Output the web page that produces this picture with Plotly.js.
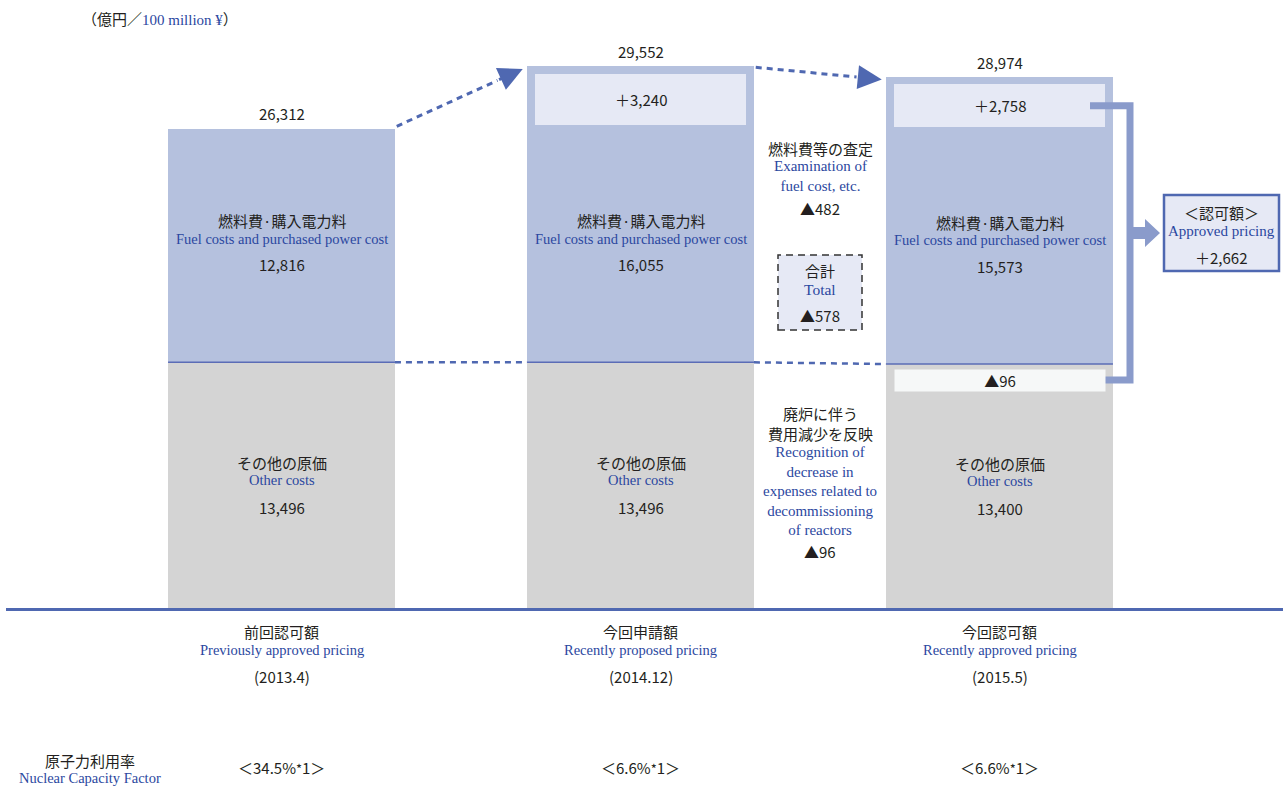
<!DOCTYPE html>
<html>
<head>
<meta charset="utf-8">
<script src="https://cdn.plot.ly/plotly-3.0.1.min.js"></script>
<style>html,body{margin:0;padding:0;background:#fff;}#chart{width:1283px;height:787px;}</style>
</head>
<body>
<div id="chart"></div>
<script>
// ---- data ----
const categories = ['前回認可額', '今回申請額', '今回認可額'];
const categoriesEn = ['Previously approved pricing', 'Recently proposed pricing', 'Recently approved pricing'];
const periods = ['(2013.4)', '(2014.12)', '(2015.5)'];
const otherCosts = [13496, 13496, 13400];
const fuelBase = [12816, 12815, 12815];
const fuelIncrease = [null, 3240, 2758];
const fuelTotals = [12816, 16055, 15573];
const totals = [26312, 29552, 28974];
const nuclearFactor = ['34.5%', '6.6%', '6.6%'];
const fuelAssessment = 482;        // ▲ decrease
const decommissioningCut = 96;     // ▲ decrease
const totalAssessment = 578;       // ▲ decrease
const approvedIncrease = 2662;

// ---- styling ----
const JP = "'Noto Sans CJK JP','Noto Sans',sans-serif";
const EN = "'Liberation Serif','Times New Roman',serif";
const BLUE = '#2b47a0', DARK = '#231f20';
const C_FUEL = '#b5c1de', C_INNER = '#e6e9f5', C_OTHER = '#d4d4d4', C_LINE = '#4f68b1', C_BRACKET = '#8a9bcb';
const yMax = 32300;
const BW = 0.632, HW = BW / 2;
const T = 20, PH = 588, L = 6, PW = 1277;
const px2x = p => (p - L) / PW;
const px2y = p => (T + PH - p) / PH;
const fmt = n => n.toLocaleString('en-US');

const stackTop = otherCosts.map((o, i) => o + fuelBase[i] + (fuelIncrease[i] || 0));

const traces = [
  {type: 'bar', x: categories, y: otherCosts, width: BW, marker: {color: C_OTHER, line: {width: 0}}, hoverinfo: 'skip'},
  {type: 'bar', x: categories, y: fuelBase, width: BW, marker: {color: C_FUEL, line: {width: 0}}, hoverinfo: 'skip'},
  {type: 'bar', x: categories, y: fuelIncrease, width: BW - 7.5 / 359, marker: {color: C_INNER, line: {width: 7.5, color: C_FUEL}}, hoverinfo: 'skip'}
];

const ann = [];
const shapes = [];
function A(o) { ann.push(Object.assign({showarrow: false, xref: 'x', yref: 'y', xanchor: 'center', yanchor: 'middle', font: {family: JP, size: 15, color: DARK}}, o)); }

categories.forEach((c, i) => {
  A({x: c, y: stackTop[i], yanchor: 'bottom', yshift: fuelIncrease[i] ? 6 : 3, text: fmt(totals[i])});
  const yf = otherCosts[i] + fuelBase[i] / 2;
  A({x: c, y: yf, yshift: 25, text: '燃料費·購入電力料'});
  A({x: c, y: yf, yshift: 7, text: 'Fuel costs and purchased power cost', font: {family: EN, size: 14.5, color: BLUE}});
  A({x: c, y: yf, yshift: -19, text: fmt(fuelTotals[i])});
  const yo = otherCosts[i] / 2;
  A({x: c, y: yo, yshift: 23, text: 'その他の原価'});
  A({x: c, y: yo, yshift: 5, text: 'Other costs', font: {family: EN, size: 14.5, color: BLUE}});
  A({x: c, y: yo, yshift: -22, text: fmt(otherCosts[i])});
  if (fuelIncrease[i]) {
    A({x: c, y: otherCosts[i] + fuelBase[i] + fuelIncrease[i] / 2, text: '＋' + fmt(fuelIncrease[i])});
  }
  A({x: c, y: 0, yshift: -42, text: categoriesEn[i], font: {family: EN, size: 14.5, color: BLUE}});
  A({x: c, y: 0, yshift: -68, text: periods[i]});
  A({x: c, y: 0, yshift: -159, text: '＜' + nuclearFactor[i] + "<span style='font-size:13px'>*</span>1＞"});
  shapes.push({type: 'line', xref: 'x', yref: 'y', x0: i - HW, x1: i + HW, y0: otherCosts[i], y1: otherCosts[i], line: {color: '#5b6cb6', width: 1.5}});
});

// ▲96 strip in bar 3
A({x: categories[2], y: otherCosts[2], yanchor: 'top', yshift: -5, width: 210, height: 21, borderpad: 0, bgcolor: '#f6f8f8', text: '▲' + fmt(decommissioningCut)});

// connectors between bars
for (let i = 0; i < 2; i++) {
  shapes.push({type: 'line', xref: 'x', yref: 'y', x0: i + HW, x1: i + 1 - HW, y0: otherCosts[i], y1: otherCosts[i + 1], line: {color: C_LINE, width: 2.5, dash: '6px,5px'}});
  const sx = i + HW + 0.005, sy = stackTop[i] + 150;
  const tx = i + 1 - HW - 0.012, ty = stackTop[i + 1] + 60;
  const f = 0.8;
  const mx = sx + f * (tx - sx), my = sy + f * (ty - sy);
  shapes.push({type: 'line', xref: 'x', yref: 'y', x0: sx, y0: sy, x1: mx, y1: my, line: {color: C_LINE, width: 3, dash: '6px,5px'}});
  ann.push({x: tx, y: ty, xref: 'x', yref: 'y', ax: mx, ay: my, axref: 'x', ayref: 'y', showarrow: true, arrowhead: 2, arrowsize: 1.6, arrowwidth: 3, arrowcolor: C_LINE, text: '', standoff: 0});
}

// middle notes
function P(o) { ann.push(Object.assign({showarrow: false, xref: 'x', yref: 'paper', x: 1.5, xanchor: 'center', yanchor: 'middle', font: {family: JP, size: 15, color: DARK}}, o)); }
P({y: px2y(148), text: '燃料費等の査定'});
P({y: px2y(176), text: 'Examination of<br>fuel cost, etc.', font: {family: EN, size: 15, color: BLUE}});
P({y: px2y(209), text: '▲' + fmt(fuelAssessment)});
shapes.push({type: 'rect', xref: 'x', yref: 'paper', x0: 1.5 - 0.117, x1: 1.5 + 0.117, y0: px2y(330), y1: px2y(255), fillcolor: C_INNER, line: {color: '#333', width: 1.5, dash: '7px,5px'}, layer: 'below'});
P({y: px2y(270), text: '合計'});
P({y: px2y(289), text: 'Total', font: {family: EN, size: 15.5, color: BLUE}});
P({y: px2y(315), text: '▲' + fmt(totalAssessment)});
P({y: px2y(423), text: '廃炉に伴う<br>費用減少を反映'});
P({y: px2y(491), text: 'Recognition of<br>decrease in<br>expenses related to<br>decommissioning<br>of reactors', font: {family: EN, size: 15, color: BLUE}});
P({y: px2y(551), text: '▲' + fmt(decommissioningCut)});

// bracket to approved box
const bx0 = px2x(1090), bx1 = px2x(1130);
const yTop = (otherCosts[2] + fuelBase[2] + fuelIncrease[2] / 2) / yMax;
const yBot = otherCosts[2] / yMax - 16 / PH;
shapes.push({type: 'path', xref: 'paper', yref: 'paper', path: `M${bx0},${yTop} L${bx1},${yTop} L${bx1},${yBot} L${bx0},${yBot}`, line: {color: C_BRACKET, width: 7}});
const ym = px2y(233);
const dy = v => v / PH;
shapes.push({type: 'path', xref: 'paper', yref: 'paper', path: `M${bx1},${ym + dy(6)} L${px2x(1145)},${ym + dy(6)} L${px2x(1145)},${ym + dy(14)} L${px2x(1160)},${ym} L${px2x(1145)},${ym - dy(14)} L${px2x(1145)},${ym - dy(6)} L${bx1},${ym - dy(6)} Z`, fillcolor: C_BRACKET, line: {width: 0}});
shapes.push({type: 'rect', xref: 'paper', yref: 'paper', x0: px2x(1164), x1: px2x(1279), y0: px2y(271), y1: px2y(195), fillcolor: C_INNER, line: {color: C_LINE, width: 2.5}});
function Q(o) { ann.push(Object.assign({showarrow: false, xref: 'paper', yref: 'paper', xanchor: 'center', yanchor: 'middle', font: {family: JP, size: 15, color: DARK}}, o)); }
Q({x: px2x(1221), y: px2y(212), text: '＜認可額＞'});
Q({x: px2x(1221), y: px2y(231), text: 'Approved pricing', font: {family: EN, size: 15, color: BLUE}});
Q({x: px2x(1221), y: px2y(257), text: '＋' + fmt(approvedIncrease)});

// unit label & left labels
Q({x: px2x(80), y: px2y(18), xanchor: 'left', text: "（億円／<span style='color:" + BLUE + ";font-family:Liberation Serif'>100 million ¥</span>）", font: {family: JP, size: 15, color: DARK}});
Q({x: px2x(90), y: px2y(760), text: '原子力利用率', font: {family: JP, size: 15, color: DARK}});
Q({x: px2x(90), y: px2y(778), text: 'Nuclear Capacity Factor', font: {family: EN, size: 14.5, color: BLUE}});

const layout = {
  width: 1283, height: 787,
  margin: {l: L, r: 0, t: T, b: 787 - T - PH, pad: 0},
  barmode: 'stack', bargap: 0,
  showlegend: false, hovermode: false,
  paper_bgcolor: '#fff', plot_bgcolor: '#fff',
  font: {family: JP, color: DARK},
  xaxis: {type: 'category', range: [-(281.5 - L) / 359, (1283 - 281.5) / 359], showline: true, linecolor: C_LINE, linewidth: 2.5, showgrid: false, zeroline: false, ticks: '', ticklabelstandoff: 9, tickfont: {family: JP, size: 15, color: DARK}, fixedrange: true},
  yaxis: {range: [0, yMax], visible: false, showgrid: false, zeroline: false, fixedrange: true},
  annotations: ann,
  shapes: shapes
};

Plotly.newPlot('chart', traces, layout, {displayModeBar: false, staticPlot: true});
</script>
</body>
</html>
